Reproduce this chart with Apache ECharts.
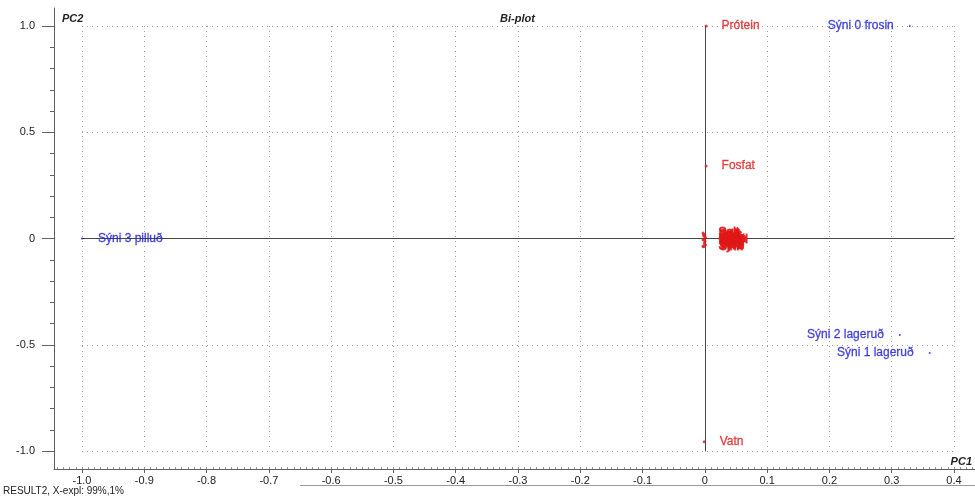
<!DOCTYPE html>
<html>
<head>
<meta charset="utf-8">
<script src="https://cdn.jsdelivr.net/npm/echarts@6/dist/echarts.min.js"></script>
<style>
  html, body { margin: 0; padding: 0; background: #fff; }
  #chart { width: 975px; height: 500px; }
</style>
</head>
<body>
<div id="chart"></div>
<script>
// PCA bi-plot: sample scores (blue) and variable loadings (red), PC1 vs PC2

const sampleNames = ['Sýni 0 frosin', 'Sýni 1 lageruð', 'Sýni 2 lageruð', 'Sýni 3 pilluð'];
const samplePC1 = [0.329, 0.361, 0.313, -1.0];
const samplePC2 = [1.0, -0.539, -0.454, 0.0];
const sampleLabelSide = ['left', 'left', 'left', 'right'];

const variableNames = ['Prótein', 'Fosfat', 'Vatn',
  'Salt', 'Fita', 'Aska', 'Kalk', 'Járn', 'Sýra', 'Lykt', 'Litur', 'Sódi', 'Kalí', 'Sink', 'Joð', 'Gæði'];
const variablePC1 = [0.002, 0.002, -0.001,
  -0.003, -0.002, -0.001, 0.0, 0.001, -0.003, -0.002, 0.0, -0.001, 0.001, -0.002, 0.0, -0.003];
const variablePC2 = [1.0, 0.341, -0.956,
  0.026, 0.012, -0.002, -0.016, -0.030, -0.036, 0.020, -0.010, -0.024, 0.005, -0.039, 0.018, -0.006];

const pc1Ticks = [-1.0, -0.9, -0.8, -0.7, -0.6, -0.5, -0.4, -0.3, -0.2, -0.1, 0, 0.1, 0.2, 0.3, 0.4];
const pc1TickLabels = ['-1.0', '-0.9', '-0.8', '-0.7', '-0.6', '-0.5', '-0.4', '-0.3', '-0.2', '-0.1', '0', '0.1', '0.2', '0.3', '0.4'];
const pc2Ticks = [-1.0, -0.5, 0, 0.5, 1.0];
const pc2TickLabels = ['-1.0', '-0.5', '0', '0.5', '1.0'];

// fine tick marks along the frame axes
const pc1MinorTicks = [];
for (let k = -104; k <= 43; k++) pc1MinorTicks.push(k / 100);
const pc2MinorTicks = [];
for (let k = -10; k <= 10; k++) pc2MinorTicks.push(k / 10);

// layout: inner plot box and the outer frame carrying the axes
const W = 975, H = 500;
const plot = { left: 82, right: 21, top: 26, bottom: 49 };
const frame = { left: 54, right: 0, top: 8, bottom: 31 };
const xPx = (W - plot.left - plot.right) / 1.4;
const yPx = (H - plot.top - plot.bottom) / 2;
const frameXMin = -1 - (plot.left - frame.left) / xPx;
const frameXMax = 0.4 + (plot.right - frame.right) / xPx;
const frameYMax = 1 + (plot.top - frame.top) / yPx;
const frameYMin = -1 - (plot.bottom - frame.bottom) / yPx;

const BLUE = '#1c1cd8';
const RED = '#e01818';
const FONT = '"Liberation Sans", Arial, sans-serif';

function lookup(ticks, labels) {
  return function (v) {
    const i = ticks.findIndex(t => Math.abs(t - v) < 1e-6);
    return i >= 0 ? labels[i] : '';
  };
}

const gridDots = { show: true, lineStyle: { color: '#9c9c9c', type: [1, 4], width: 1 } };

const sampleData = sampleNames.map((n, i) => ({
  name: n,
  value: [samplePC1[i], samplePC2[i]],
  label: { position: sampleLabelSide[i] }
}));
// the packed loadings near the origin print on top of each other
const variableData = variableNames.map((n, i) => ({
  name: n,
  value: [variablePC1[i], variablePC2[i]],
  label: i >= 3 ? { textBorderWidth: 0.9 } : undefined
}));

const chart = echarts.init(document.getElementById('chart'), null, { renderer: 'canvas' });
chart.setOption({
  animation: false,
  backgroundColor: '#fff',
  textStyle: { fontFamily: FONT },
  grid: [
    { left: plot.left, right: plot.right, top: plot.top, bottom: plot.bottom },
    { left: frame.left, right: frame.right, top: frame.top, bottom: frame.bottom }
  ],
  xAxis: [
    {
      gridIndex: 0, type: 'value', min: -1, max: 0.4, interval: 0.1,
      axisLine: { show: true, onZero: true, lineStyle: { color: '#484848', width: 1 } },
      axisTick: { show: false }, axisLabel: { show: false },
      splitLine: gridDots
    },
    {
      gridIndex: 1, type: 'value', position: 'bottom', min: frameXMin, max: frameXMax,
      axisLine: { show: true, onZero: false, lineStyle: { color: '#606060', width: 1 } },
      axisTick: { show: true, customValues: pc1Ticks, length: 4, lineStyle: { color: '#606060' } },
      axisLabel: {
        show: true, customValues: pc1Ticks, formatter: lookup(pc1Ticks, pc1TickLabels),
        margin: 6, fontSize: 11, color: '#222', fontFamily: FONT
      },
      splitLine: { show: false }
    },
    {
      gridIndex: 1, type: 'value', position: 'bottom', min: frameXMin, max: frameXMax,
      axisLine: { show: false, onZero: false },
      axisTick: { show: true, customValues: pc1MinorTicks, inside: true, length: 2, lineStyle: { color: '#909090' } },
      axisLabel: { show: false },
      splitLine: { show: false }
    }
  ],
  yAxis: [
    {
      gridIndex: 0, type: 'value', min: -1, max: 1, interval: 0.5,
      axisLine: { show: true, onZero: true, lineStyle: { color: '#484848', width: 1 } },
      axisTick: { show: false }, axisLabel: { show: false },
      splitLine: gridDots
    },
    {
      gridIndex: 1, type: 'value', position: 'left', min: frameYMin, max: frameYMax,
      axisLine: { show: true, onZero: false, lineStyle: { color: '#606060', width: 1 } },
      axisTick: { show: true, customValues: pc2Ticks, length: 12, lineStyle: { color: '#606060' } },
      axisLabel: {
        show: true, customValues: pc2Ticks, formatter: lookup(pc2Ticks, pc2TickLabels),
        margin: 19, fontSize: 11, color: '#222', fontFamily: FONT
      },
      splitLine: { show: false }
    },
    {
      gridIndex: 1, type: 'value', position: 'left', min: frameYMin, max: frameYMax,
      axisLine: { show: false, onZero: false },
      axisTick: { show: true, customValues: pc2MinorTicks, length: 4, lineStyle: { color: '#606060' } },
      axisLabel: { show: false },
      splitLine: { show: false }
    }
  ],
  series: [
    {
      name: 'Sýni', type: 'scatter', xAxisIndex: 0, yAxisIndex: 0,
      clip: false, symbol: 'circle', symbolSize: 2,
      itemStyle: { color: BLUE },
      label: {
        show: true, formatter: '{b}', color: BLUE, fontSize: 12, distance: 15, fontFamily: FONT,
        textBorderColor: BLUE, textBorderWidth: 0.3
      },
      data: sampleData
    },
    {
      name: 'Breytur', type: 'scatter', xAxisIndex: 0, yAxisIndex: 0,
      clip: false, symbol: 'circle', symbolSize: 3,
      itemStyle: { color: RED },
      label: {
        show: true, position: 'right', formatter: '{b}', color: RED, fontSize: 12, distance: 14, fontFamily: FONT,
        textBorderColor: RED, textBorderWidth: 0.3
      },
      data: variableData
    }
  ],
  graphic: [
    { type: 'text', left: 62, top: 13, style: { text: 'PC2', font: 'italic bold 11px ' + FONT, fill: '#222' } },
    { type: 'text', left: 500, top: 13, style: { text: 'Bi-plot', font: 'italic bold 11px ' + FONT, fill: '#222' } },
    { type: 'text', right: 3, top: 456, style: { text: 'PC1', font: 'italic bold 11px ' + FONT, fill: '#222' } },
    { type: 'text', left: 3, top: 486, style: { text: 'RESULT2, X-expl: 99%,1%', font: '10px ' + FONT, fill: '#222' } },
    { type: 'line', shape: { x1: 300, y1: 485.5, x2: 975, y2: 485.5 }, style: { stroke: '#9a9a9a', lineWidth: 1 } }
  ]
});
</script>
</body>
</html>
